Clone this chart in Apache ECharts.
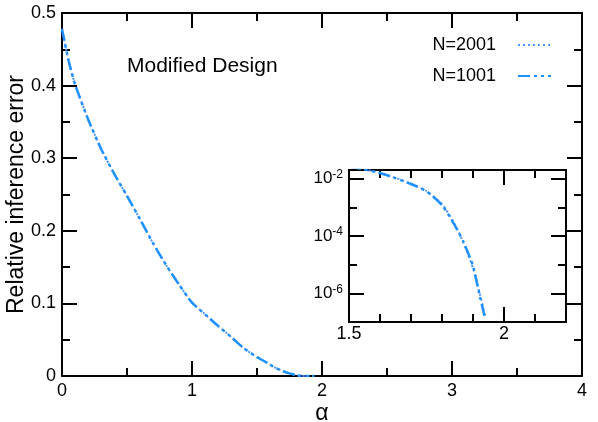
<!DOCTYPE html>
<html>
<head>
<meta charset="utf-8">
<script src="https://cdn.jsdelivr.net/npm/echarts@6/dist/echarts.min.js"></script>
<style>
  html, body { margin: 0; padding: 0; background: #fff; }
  #chart { width: 598px; height: 422px; }
</style>
</head>
<body>
<div id="chart"></div>
<script>
// values
var alpha = [0, 0.05, 0.1, 0.2, 0.3, 0.4, 0.5, 0.6, 0.7, 0.8, 0.9, 1.0, 1.1, 1.2, 1.3, 1.4,
             1.5, 1.55, 1.6, 1.65, 1.7, 1.75, 1.8, 1.84, 1.87, 1.9, 1.92, 1.94];
var errN2001 = [0.478, 0.435, 0.402, 0.354, 0.313, 0.279, 0.248, 0.216, 0.183, 0.153, 0.126, 0.101,
                0.085, 0.069, 0.054, 0.038, 0.026, 0.021, 0.0158, 0.0105, 0.0066, 0.0037, 0.0013,
                2.7e-4, 5.5e-5, 7.5e-6, 1.2e-6, 1.5e-7];
var errN1001 = [0.478, 0.435, 0.402, 0.354, 0.313, 0.279, 0.248, 0.216, 0.183, 0.153, 0.126, 0.101,
                0.085, 0.069, 0.054, 0.038, 0.026, 0.021, 0.0157, 0.0104, 0.0065, 0.0036, 0.0012,
                2.5e-4, 6.0e-5, 9.0e-6, 1.0e-6, 1.2e-7];
var insetXMajor = [1.5, 2];
var insetXMinor = [1.6, 1.7, 1.8, 1.9, 2.1];
var insetYMajor = [1e-2, 1e-4, 1e-6];
var insetYMinor = [1e-3, 1e-5];

var FONT = 'Liberation Sans, Arial, sans-serif';
var black = '#000';

function pairs(xs, ys) {
  return xs.map(function (x, i) { return [x, ys[i]]; });
}

function axisBase(extra) {
  var a = {
    axisLine: { show: true, onZero: false, lineStyle: { color: black, width: 2 } },
    axisTick: { show: true, inside: true, length: 15, lineStyle: { color: black, width: 2 } },
    axisLabel: { show: false },
    splitLine: { show: false }
  };
  return Object.assign(a, extra);
}

var myChart = echarts.init(document.getElementById('chart'));

var option = {
  animation: false,
  backgroundColor: '#fff',
  title: {
    text: 'Modified Design',
    left: 122, top: 51,
    textStyle: { fontFamily: FONT, fontSize: 21, fontWeight: 'normal', color: black }
  },
  legend: {
    data: ['N=2001', 'N=1001'],
    orient: 'vertical',
    right: 41, top: 31,
    align: 'right',
    itemWidth: 33, itemHeight: 14, itemGap: 13,
    itemStyle: { opacity: 0 },
    textStyle: { fontFamily: FONT, fontSize: 18, color: black, padding: [0, 17, 0, 0] }
  },
  grid: [
    { left: 62, right: 16, top: 13, bottom: 46, outerBoundsMode: 'none' },
    { left: 349, right: 32, top: 170, bottom: 100, outerBoundsMode: 'none',
      show: true, backgroundColor: '#fff', borderWidth: 0 }
  ],
  xAxis: [
    axisBase({
      type: 'value', gridIndex: 0, position: 'bottom', min: 0, max: 4, interval: 1,
      minorTick: { show: true, splitNumber: 2, length: 8, lineStyle: { color: black, width: 2 } },
      axisLabel: { show: true, margin: 6, fontFamily: FONT, fontSize: 18, color: black },
      name: 'α', nameLocation: 'middle', nameGap: 26, nameMoveOverlap: false,
      nameTextStyle: { fontFamily: FONT, fontSize: 23, color: black }
    }),
    axisBase({
      type: 'value', gridIndex: 0, position: 'top', min: 0, max: 4, interval: 1,
      minorTick: { show: true, splitNumber: 2, length: 8, lineStyle: { color: black, width: 2 } }
    }),
    axisBase({
      type: 'value', gridIndex: 1, position: 'bottom', min: 1.5, max: 2.2,
      axisTick: { show: true, inside: true, length: 15, customValues: insetXMajor, lineStyle: { color: black, width: 2 } },
      axisLabel: { show: true, customValues: insetXMajor, margin: 3, fontFamily: FONT, fontSize: 18, color: black }
    }),
    axisBase({
      type: 'value', gridIndex: 1, position: 'bottom', min: 1.5, max: 2.2,
      axisTick: { show: true, inside: true, length: 8, customValues: insetXMinor, lineStyle: { color: black, width: 2 } }
    }),
    axisBase({
      type: 'value', gridIndex: 1, position: 'top', min: 1.5, max: 2.2,
      axisTick: { show: true, inside: true, length: 15, customValues: insetXMajor, lineStyle: { color: black, width: 2 } }
    }),
    axisBase({
      type: 'value', gridIndex: 1, position: 'top', min: 1.5, max: 2.2,
      axisTick: { show: true, inside: true, length: 8, customValues: insetXMinor, lineStyle: { color: black, width: 2 } }
    })
  ],
  yAxis: [
    axisBase({
      type: 'value', gridIndex: 0, position: 'left', min: 0, max: 0.5, interval: 0.1,
      minorTick: { show: true, splitNumber: 2, length: 8, lineStyle: { color: black, width: 2 } },
      axisLabel: { show: true, margin: 6, fontFamily: FONT, fontSize: 18, color: black },
      name: 'Relative inference error', nameLocation: 'middle', nameGap: 34, nameMoveOverlap: false,
      nameTextStyle: { fontFamily: FONT, fontSize: 23, color: black }
    }),
    axisBase({
      type: 'value', gridIndex: 0, position: 'right', min: 0, max: 0.5, interval: 0.1,
      minorTick: { show: true, splitNumber: 2, length: 8, lineStyle: { color: black, width: 2 } }
    }),
    axisBase({
      type: 'log', logBase: 10, gridIndex: 1, position: 'left', min: 1e-7, max: 0.02,
      axisTick: { show: true, inside: true, length: 15, customValues: insetYMajor, lineStyle: { color: black, width: 2 } },
      axisLabel: {
        show: true, customValues: insetYMajor, margin: 6, color: black,
        formatter: function (v) {
          return '{b|10}{s|' + Math.round(Math.log10(v)) + '}';
        },
        rich: {
          b: { fontFamily: FONT, fontSize: 17, color: black },
          s: { fontFamily: FONT, fontSize: 12, color: black, padding: [0, 0, 8, 0] }
        }
      }
    }),
    axisBase({
      type: 'log', logBase: 10, gridIndex: 1, position: 'left', min: 1e-7, max: 0.02,
      axisTick: { show: true, inside: true, length: 8, customValues: insetYMinor, lineStyle: { color: black, width: 2 } }
    }),
    axisBase({
      type: 'log', logBase: 10, gridIndex: 1, position: 'right', min: 1e-7, max: 0.02,
      axisTick: { show: true, inside: true, length: 15, customValues: insetYMajor, lineStyle: { color: black, width: 2 } }
    }),
    axisBase({
      type: 'log', logBase: 10, gridIndex: 1, position: 'right', min: 1e-7, max: 0.02,
      axisTick: { show: true, inside: true, length: 8, customValues: insetYMinor, lineStyle: { color: black, width: 2 } }
    })
  ],
  series: [
    {
      name: 'N=2001', type: 'line', xAxisIndex: 0, yAxisIndex: 0, symbol: 'none', smooth: 0.2,
      lineStyle: { color: '#4f94ff', width: 2, type: [2, 3] },
      itemStyle: { color: '#4f94ff' },
      data: pairs(alpha, errN2001)
    },
    {
      name: 'N=1001', type: 'line', xAxisIndex: 0, yAxisIndex: 0, symbol: 'none', smooth: 0.2,
      lineStyle: { color: '#1e90ff', width: 2.5, type: [12, 4, 3, 4, 3, 4] },
      itemStyle: { color: '#1e90ff' },
      data: pairs(alpha, errN1001)
    },
    {
      name: 'N=2001', type: 'line', xAxisIndex: 2, yAxisIndex: 2, symbol: 'none', smooth: 0.2,
      lineStyle: { color: '#4f94ff', width: 2, type: [2, 3] },
      data: pairs(alpha, errN2001).filter(function (p) { return p[0] >= 1.5; })
    },
    {
      name: 'N=1001', type: 'line', xAxisIndex: 2, yAxisIndex: 2, symbol: 'none', smooth: 0.2,
      lineStyle: { color: '#1e90ff', width: 2.5, type: [12, 4, 3, 4, 3, 4] },
      data: pairs(alpha, errN1001).filter(function (p) { return p[0] >= 1.5; })
    }
  ]
};

myChart.setOption(option);
window.onresize = function () { myChart.resize(); };
</script>
</body>
</html>
